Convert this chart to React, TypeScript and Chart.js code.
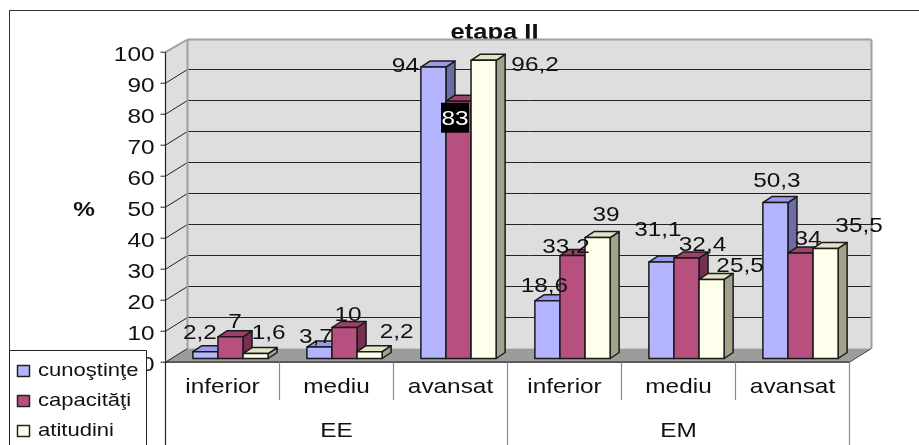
import React, { useEffect, useRef } from "react";
import { Chart, registerables } from "chart.js";

Chart.register(...registerables);

// ---------- data ----------
const chartTitle = "etapa II";
const yAxisTitle = "%";
const categories = ["inferior", "mediu", "avansat", "inferior", "mediu", "avansat"];
const groupLabels = ["EE", "EM"];
const seriesNames = ["cunoştinţe", "capacităţi", "atitudini"];
const cunostinte = [2.2, 3.7, 94, 18.6, 31.1, 50.3];
const capacitati = [7, 10, 83, 33.2, 32.4, 34];
const atitudini = [1.6, 2.2, 96.2, 39, 25.5, 35.5];
const yTicks = [0, 10, 20, 30, 40, 50, 60, 70, 80, 90, 100];

// ---------- styles ----------
const frontColors = ["#B4B4FF", "#B8507F", "#FFFFEC"];
const topColors = ["#9A9AE6", "#9C416C", "#E4E4C4"];
const sideColors = ["#6C6CA6", "#76304F", "#A2A28A"];
// label nudges (dx, dy) relative to the bar's front top centre, per series / category
const labelNudge = [
  [[-5.5, -12.7], [-3.5, -4], [-28, 4.6], [-3, -9], [-3.5, -26], [1.5, -16]],
  [[4.5, -8.8], [3.5, -6.8], [-3.5, 24], [-6.5, -2.3], [16, -7.3], [7.5, -8]],
  [[13, -14.5], [27, -13.7], [51.5, 10.4], [8.5, -17], [28.5, -7.8], [33.5, -16]],
];
const boxedLabel = [1, 2]; // series, category with black label box

const SX = 1.16; // horizontal text stretch
const FONT = "'Liberation Sans', Arial, sans-serif";
const TEXT = "#111";
const DEPTH_DX = 9;
const DEPTH_DY = -6;
const FRONT_DX = -8;
const FRONT_DY = 3.7;
const BACK_DX = 14;
const BACK_DY = -10;

function txt(ctx: CanvasRenderingContext2D, s: string, x: number, y: number, align: CanvasTextAlign, font: string, color = TEXT) {
  ctx.save();
  ctx.font = font;
  ctx.fillStyle = color;
  ctx.textBaseline = "alphabetic";
  ctx.translate(x, y);
  ctx.scale(SX, 1);
  ctx.textAlign = align;
  ctx.fillText(s, 0, 0);
  ctx.restore();
}

function poly(ctx: CanvasRenderingContext2D, pts: number[][], fill?: string, stroke?: string, lw = 1) {
  ctx.beginPath();
  ctx.moveTo(pts[0][0], pts[0][1]);
  for (let i = 1; i < pts.length; i++) ctx.lineTo(pts[i][0], pts[i][1]);
  ctx.closePath();
  if (fill) {
    ctx.fillStyle = fill;
    ctx.fill();
  }
  if (stroke) {
    ctx.strokeStyle = stroke;
    ctx.lineWidth = lw;
    ctx.stroke();
  }
}

function line(ctx: CanvasRenderingContext2D, x1: number, y1: number, x2: number, y2: number, color: string, lw = 1) {
  ctx.beginPath();
  ctx.moveTo(x1, y1);
  ctx.lineTo(x2, y2);
  ctx.strokeStyle = color;
  ctx.lineWidth = lw;
  ctx.stroke();
}

const fmt = (v: number) => String(v).replace(".", ",");

const scenePlugin = {
  id: "scene3d",
  beforeDatasetsDraw(chart: any) {
    const ctx: CanvasRenderingContext2D = chart.ctx;
    const ca = chart.chartArea;
    const ys = chart.scales.y;
    const xs = chart.scales.x;
    const fy = (v: number) => ys.getPixelForValue(v) + FRONT_DY;
    const by = (v: number) => ys.getPixelForValue(v) + BACK_DY;
    const fx = ca.left + FRONT_DX;
    const fxR = ca.right + FRONT_DX;
    const bx = ca.left + BACK_DX;
    const bxR = ca.right + BACK_DX;
    ctx.save();
    // outer frame
    ctx.strokeStyle = "#333";
    ctx.lineWidth = 1;
    ctx.strokeRect(9.5, 10.5, 1200, 1200);
    // title (sits partly behind wall)
    txt(ctx, chartTitle, (ca.left + ca.right) / 2 - 21, 38.6, "center", `bold 22px ${FONT}`, "#111");
    // walls & floor
    poly(ctx, [[bx, by(100) + 1], [bxR, by(100) + 1], [bxR, by(0)], [bx, by(0)]], "#DEDEDE");
    poly(ctx, [[fx, fy(100)], [bx, by(100) + 1], [bx, by(0)], [fx, fy(0)]], "#DEDEDE");
    poly(ctx, [[fx, fy(0)], [bx, by(0)], [bxR, by(0)], [fxR, fy(0)]], "#9C9C9C");
    // gridlines
    for (const v of yTicks) {
      if (v > 0 && v < 100) line(ctx, bx, by(v), bxR, by(v), "#222", 1);
      if (v < 100) line(ctx, fx, fy(v), bx, by(v), "#222", 1);
    }
    // wall borders
    line(ctx, fx, fy(100), bx, by(100) + 1, "#A0A0A0", 2);
    line(ctx, bx, by(100) + 1, bxR, by(100) + 1, "#A0A0A0", 2);
    line(ctx, bx, by(100) + 1, bx, by(0), "#A0A0A0", 2);
    line(ctx, bxR, by(100) + 1, bxR, by(0), "#A0A0A0", 2);
    // floor edges
    line(ctx, fx, fy(0), fxR, fy(0), "#222", 1.2);
    line(ctx, fxR, fy(0), bxR, by(0), "#444", 1);
    // y axis
    line(ctx, fx, fy(100), fx, 445, "#222", 1.2);
    for (const v of yTicks) {
      line(ctx, fx - 5, fy(v), fx, fy(v), "#222", 1);
      txt(ctx, String(v), fx - 11, fy(v) + 8.8, "right", `21px ${FONT}`);
    }
    // category dividers & labels
    const catW = (ca.right - ca.left) / categories.length;
    for (let k = 1; k <= categories.length; k++) {
      const x = fx + k * catW;
      const full = k % 3 === 0;
      line(ctx, x, fy(0), x, full ? 445 : 400, "#8A8A8A", 1.2);
    }
    categories.forEach((c, i) => {
      const x = xs.getPixelForValue(i) + FRONT_DX;
      txt(ctx, c, x, 393, "center", `21px ${FONT}`);
    });
    groupLabels.forEach((g, gi) => {
      const x = fx + (gi * 3 + 1.5) * catW;
      txt(ctx, g, x, 437, "center", `21px ${FONT}`);
    });
    // y title
    txt(ctx, yAxisTitle, 84, 216, "center", `bold 21px ${FONT}`);
    ctx.restore();
  },
  afterDatasetsDraw(chart: any) {
    const ctx: CanvasRenderingContext2D = chart.ctx;
    const n = categories.length;
    const metas = chart.data.datasets.map((_: any, d: number) => chart.getDatasetMeta(d));
    ctx.save();
    ctx.lineJoin = "round";
    // bars
    for (let i = 0; i < n; i++) {
      for (let d = 0; d < metas.length; d++) {
        const el = metas[d].data[i];
        const p = el.getProps(["x", "y", "base", "width"], true);
        const x0 = p.x - p.width / 2;
        const x1 = p.x + p.width / 2;
        const yt = p.y;
        const yb = p.base;
        const stroke = "#1a1a1a";
        poly(ctx, [[x1, yt], [x1 + DEPTH_DX, yt + DEPTH_DY], [x1 + DEPTH_DX, yb + DEPTH_DY], [x1, yb]], sideColors[d], stroke, 1.5);
        poly(ctx, [[x0, yt], [x0 + DEPTH_DX, yt + DEPTH_DY], [x1 + DEPTH_DX, yt + DEPTH_DY], [x1, yt]], topColors[d], stroke, 1.5);
        poly(ctx, [[x0, yt], [x1, yt], [x1, yb], [x0, yb]], frontColors[d], stroke, 1.5);
      }
    }
    // value labels
    for (let d = 0; d < metas.length; d++) {
      const vals = chart.data.datasets[d].data as number[];
      for (let i = 0; i < n; i++) {
        const el = metas[d].data[i];
        const p = el.getProps(["x", "y"], true);
        const [dx, dy] = labelNudge[d][i];
        const x = p.x + dx;
        const y = p.y + dy;
        const s = fmt(vals[i]);
        if (boxedLabel[0] === d && boxedLabel[1] === i) {
          ctx.fillStyle = "#000";
          ctx.fillRect(x - 14, y - 22.5, 28, 30);
          txt(ctx, s, x, y, "center", `21px ${FONT}`, "#fff");
        } else {
          txt(ctx, s, x, y, "center", `21px ${FONT}`);
        }
      }
    }
    // legend
    ctx.fillStyle = "#fff";
    ctx.fillRect(9.5, 350.5, 137, 100);
    ctx.strokeStyle = "#222";
    ctx.lineWidth = 1;
    ctx.strokeRect(9.5, 350.5, 137, 100);
    seriesNames.forEach((s, k) => {
      const yy = 365 + k * 30;
      ctx.fillStyle = frontColors[k];
      ctx.fillRect(17.5, yy + 0.5, 12, 11);
      ctx.strokeStyle = "#222";
      ctx.lineWidth = 1.5;
      ctx.strokeRect(17.5, yy + 0.5, 12, 11);
      txt(ctx, s, 38, yy + 10.5, "left", `19px ${FONT}`);
    });
    ctx.restore();
  },
};

export default function App() {
  const ref = useRef<HTMLCanvasElement | null>(null);
  useEffect(() => {
    if (!ref.current) return;
    const chart = new Chart(ref.current, {
      type: "bar",
      data: {
        labels: categories,
        datasets: [cunostinte, capacitati, atitudini].map((data, d) => ({
          label: seriesNames[d],
          data,
          backgroundColor: frontColors[d],
          borderWidth: 0,
          categoryPercentage: 0.66,
          barPercentage: 1,
        })),
      },
      options: {
        responsive: false,
        animation: false,
        events: [],
        layout: { padding: { left: 173.5, right: 61.5, top: 48.5, bottom: 86.5 } },
        scales: {
          x: { display: false, offset: true },
          y: { display: false, min: 0, max: 100 },
        },
        plugins: {
          legend: { display: false },
          title: { display: false },
          tooltip: { enabled: false },
        },
      },
      plugins: [scenePlugin],
    });
    return () => chart.destroy();
  }, []);
  return (
    <div style={{ position: "fixed", left: 0, top: 0, width: 919, height: 445, background: "#fff" }}>
      <canvas ref={ref} width={919} height={445} style={{ width: 919, height: 445, display: "block" }} />
    </div>
  );
}
